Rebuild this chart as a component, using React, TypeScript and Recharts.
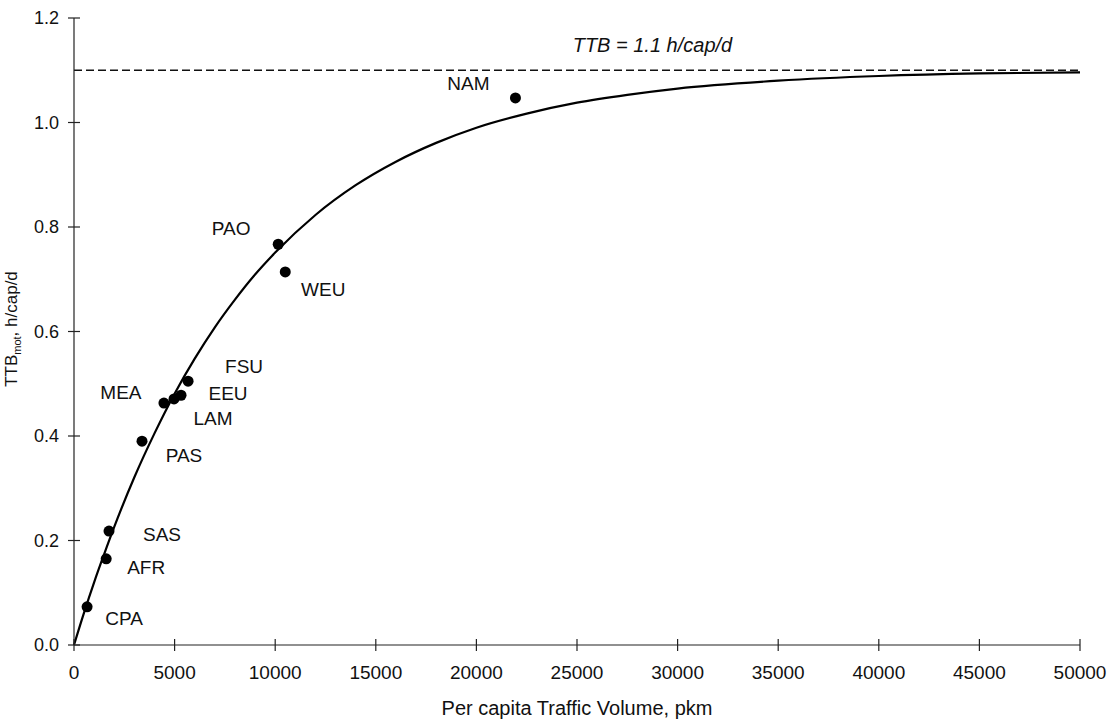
import React from 'react'
import { ComposedChart, Line, Scatter, XAxis, YAxis, ReferenceLine } from 'recharts'

// regional points (pkm per capita, h/cap/d)
const regions = ['CPA', 'AFR', 'SAS', 'PAS', 'MEA', 'LAM', 'EEU', 'FSU', 'PAO', 'WEU', 'NAM']
const volume = [650, 1600, 1740, 3380, 4470, 4970, 5320, 5670, 10150, 10500, 21940]
const budget = [0.073, 0.165, 0.218, 0.39, 0.463, 0.471, 0.478, 0.505, 0.767, 0.714, 1.047]

// fitted curve, read at intervals
const curveX = [0, 500, 1000, 1500, 2000, 3000, 4000, 5000, 6000, 7000, 8000, 9000, 10000, 12000, 14000, 16000, 18000, 20000, 22500, 25000, 27500, 30000, 35000, 40000, 45000, 50000]
const curveY = [0, 0.062, 0.12, 0.174, 0.226, 0.321, 0.405, 0.481, 0.548, 0.608, 0.661, 0.709, 0.751, 0.823, 0.88, 0.925, 0.961, 0.99, 1.017, 1.038, 1.053, 1.065, 1.08, 1.089, 1.094, 1.096]

const ttb = 1.1
const xTicks = [0, 5000, 10000, 15000, 20000, 25000, 30000, 35000, 40000, 45000, 50000]
const yTicks = [0, 0.2, 0.4, 0.6, 0.8, 1.0, 1.2]

const points = regions.map((name, i) => ({ name, x: volume[i], y: budget[i] }))
const curve = curveX.map((x, i) => ({ x, y: curveY[i] }))

const FONT = '"Liberation Sans", Arial, sans-serif'
const INK = '#111'

// label offsets from each dot (layout only)
const labelPos: Record<string, [number, number]> = {
  CPA: [37, 12], AFR: [40, 9], SAS: [53, 3], PAS: [42, 14], MEA: [-43, -11],
  LAM: [39, 20], EEU: [47, -2], FSU: [56, -15], PAO: [-47, -16], WEU: [38, 18], NAM: [-47, -14],
}

function Dot(props: any) {
  const { cx, cy, payload } = props
  const [dx, dy] = labelPos[payload.name] || [0, 0]
  return (
    <g>
      <circle cx={cx} cy={cy} r={5.5} fill="#000" />
      <text x={cx + dx} y={cy + dy} textAnchor="middle" dominantBaseline="central"
        fontSize={19} fontFamily={FONT} style={{ fill: INK }}>{payload.name}</text>
    </g>
  )
}

function TtbLabel(props: any) {
  const { viewBox } = props
  return (
    <text x={viewBox.x + viewBox.width * 0.575} y={viewBox.y - 18} textAnchor="middle"
      fontSize={20} fontStyle="italic" fontFamily={FONT} style={{ fill: INK }}>TTB = 1.1 h/cap/d</text>
  )
}

export default function App() {
  return (
    <div style={{ position: 'absolute', left: 0, top: 0, width: 1109, height: 720, background: '#fff' }}>
      <ComposedChart width={1109} height={720} margin={{ top: 18, right: 29, bottom: 15, left: 0 }}>
        <XAxis type="number" dataKey="x" domain={[0, 50000]} ticks={xTicks} interval={0}
          height={60} tickSize={12} tickMargin={9}
          axisLine={{ stroke: '#222', strokeWidth: 1.2 }}
          tickLine={{ stroke: '#222', strokeWidth: 1.2, transform: 'translate(0,-6)' }}
          tick={{ fill: INK, fontSize: 19, fontFamily: FONT }}
          label={{ value: 'Per capita Traffic Volume, pkm', position: 'insideBottom', offset: -10, fill: INK, fontSize: 20, fontFamily: FONT }} />
        <YAxis type="number" dataKey="y" domain={[0, 1.2]} ticks={yTicks} interval={0}
          width={74} tickSize={12} tickMargin={3}
          tickFormatter={(v: number) => v.toFixed(1)}
          axisLine={{ stroke: '#222', strokeWidth: 1.2 }}
          tickLine={{ stroke: '#222', strokeWidth: 1.2, transform: 'translate(6,0)' }}
          tick={{ fill: INK, fontSize: 18, fontFamily: FONT }} />
        <ReferenceLine y={ttb} stroke={INK} strokeWidth={1.6} strokeDasharray="8 4" label={<TtbLabel />} />
        <Line data={curve} dataKey="y" type="monotone" stroke="#000" strokeWidth={2.2} dot={false}
          isAnimationActive={false} />
        <Scatter data={points} dataKey="y" shape={<Dot />} isAnimationActive={false} />
        <text x={17} y={329} transform="rotate(-90, 17, 329)" textAnchor="middle"
          fontSize={17} fontFamily={FONT} style={{ fill: INK }}>
          TTB<tspan fontSize={11} dy={4}>mot</tspan><tspan dy={-4}>, h/cap/d</tspan>
        </text>
      </ComposedChart>
    </div>
  )
}
